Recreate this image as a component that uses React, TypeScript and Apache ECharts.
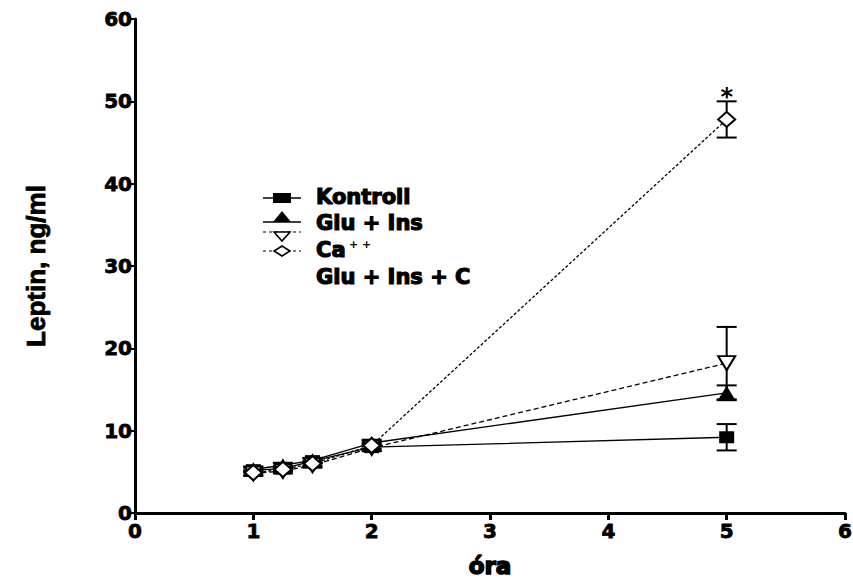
import React, { useEffect, useRef } from "react";
import * as echarts from "echarts";

const hours = [1, 1.25, 1.5, 2, 5];
const kontroll = [5.2, 5.4, 6.3, 8.0, 9.2];
const gluIns = [5.3, 5.8, 6.4, 8.5, 14.6];
const caPP = [4.8, 5.1, 5.8, 7.9, 18.2];
const gluInsC = [4.9, 5.3, 6.0, 8.2, 47.8];
const kontrollErr = [0.3, 0.3, 0.3, 0.4, 1.6];
const gluInsErr = [0.3, 0.3, 0.3, 0.4, 0.9];
const caPPErr = [0.3, 0.3, 0.3, 0.4, 4.4];
const gluInsCErr = [0.3, 0.3, 0.3, 0.4, 2.2];
const xTicks = [0, 1, 2, 3, 4, 5, 6];
const yTicks = [0, 10, 20, 30, 40, 50, 60];

const legendNames = ["Kontroll", "Glu + Ins", "Ca", "Glu + Ins + C"];

const App: React.FC = () => {
  const ref = useRef<HTMLDivElement>(null);
  useEffect(() => {
    if (!ref.current) return;
    const chart = echarts.init(ref.current, undefined, { renderer: "svg" });
    const pts = (ys: number[]) => hours.map((h, i) => [h, ys[i]]);
    const errData: any[] = [];
    const addErr = (ys: number[], es: number[], star: boolean) =>
      hours.forEach((h, i) => errData.push([h, ys[i] - es[i], ys[i] + es[i], star && i === hours.length - 1 ? 1 : 0]));
    addErr(kontroll, kontrollErr, false);
    addErr(gluIns, gluInsErr, false);
    addErr(caPP, caPPErr, false);
    addErr(gluInsC, gluInsCErr, true);

    const tickFont = {
      fontFamily: "DejaVu Sans, sans-serif", fontWeight: "bold" as const, fontSize: 20, color: "#000",
      textBorderColor: "#000", textBorderWidth: 0.8,
    };
    const lx = 263, lx2 = 301, tx = 316;
    const legendFont = {
      fontFamily: "DejaVu Sans, sans-serif", fontWeight: "bold" as const, fontSize: 21, fill: "#000",
      stroke: "#000", lineWidth: 1.2,
    };

    chart.setOption({
      animation: false,
      backgroundColor: "#fff",
      grid: { left: 135, right: 8, top: 19, bottom: 67, containLabel: false, outerBoundsMode: "none" },
      xAxis: {
        type: "value", min: 0, max: 6, interval: 1,
        axisLine: { lineStyle: { color: "#000", width: 3 } },
        axisTick: { length: 7, lineStyle: { color: "#000", width: 3 } },
        axisLabel: { ...tickFont, margin: 8, formatter: (v: number) => (xTicks.includes(v) ? String(v) : "") },
        splitLine: { show: false },
        name: "óra", nameLocation: "middle", nameGap: 41,
        nameTextStyle: {
          fontFamily: "DejaVu Sans, sans-serif", fontWeight: "bold", fontSize: 23, color: "#000",
          textBorderColor: "#000", textBorderWidth: 1.5,
        },
      },
      yAxis: {
        type: "value", min: 0, max: 60, interval: 10,
        axisLine: { lineStyle: { color: "#000", width: 3 } },
        axisTick: { length: 8, lineStyle: { color: "#000", width: 2 } },
        axisLabel: { ...tickFont, margin: 3, formatter: (v: number) => (yTicks.includes(v) ? String(v) : "") },
        splitLine: { show: false },
        name: "Leptin, ng/ml", nameLocation: "middle", nameGap: 86, nameRotate: 90,
        nameTextStyle: {
          fontFamily: "Liberation Sans Narrow, Liberation Sans, sans-serif", fontWeight: "bold", fontSize: 26, color: "#000",
          textBorderColor: "#000", textBorderWidth: 0.8,
        },
      },
      series: [
        {
          type: "custom", name: "err", data: errData, z: 1,
          renderItem: (params: any, api: any) => {
            const x = api.value(0);
            const top = api.coord([x, api.value(2)]);
            const bot = api.coord([x, api.value(1)]);
            const hw = 10;
            const st = { stroke: "#000", lineWidth: 2 };
            const children: any[] = [
              { type: "line", shape: { x1: top[0], y1: top[1], x2: bot[0], y2: bot[1] }, style: st },
              { type: "line", shape: { x1: top[0] - hw, y1: top[1], x2: top[0] + hw, y2: top[1] }, style: st },
              { type: "line", shape: { x1: bot[0] - hw, y1: bot[1], x2: bot[0] + hw, y2: bot[1] }, style: st },
            ];
            if (api.value(3) === 1) {
              children.push({ type: "text", x: top[0], y: top[1] + 8, style: { text: "*", fill: "#000", font: "bold 24px DejaVu Sans, sans-serif", align: "center", verticalAlign: "bottom" } });
            }
            return { type: "group", children };
          },
        },
        {
          type: "line", name: legendNames[0], data: pts(kontroll), z: 3,
          symbol: "rect", symbolSize: [15, 12],
          itemStyle: { color: "#000" }, lineStyle: { color: "#000", width: 1.3 },
        },
        {
          type: "line", name: legendNames[1], data: pts(gluIns), z: 3,
          symbol: "triangle", symbolSize: [17, 14],
          itemStyle: { color: "#000" }, lineStyle: { color: "#000", width: 1.3 },
        },
        {
          type: "line", name: legendNames[2], data: pts(caPP), z: 4,
          symbol: "triangle", symbolRotate: 180, symbolSize: [17, 14],
          itemStyle: { color: "#fff", borderColor: "#000", borderWidth: 2 },
          lineStyle: { color: "#000", width: 1.3, type: [5, 3] },
        },
        {
          type: "line", name: legendNames[3], data: pts(gluInsC), z: 4,
          symbol: "diamond", symbolSize: [17, 15],
          itemStyle: { color: "#fff", borderColor: "#000", borderWidth: 2 },
          lineStyle: { color: "#000", width: 1.3, type: [3, 2] },
        },
      ],
      graphic: [
        { type: "line", shape: { x1: lx, y1: 198, x2: lx2, y2: 198 }, style: { stroke: "#000", lineWidth: 1.3 } },
        { type: "rect", shape: { x: 273, y: 193, width: 18, height: 10 }, style: { fill: "#000" } },
        { type: "line", shape: { x1: lx, y1: 222, x2: lx2, y2: 222 }, style: { stroke: "#000", lineWidth: 1.3 } },
        { type: "polygon", shape: { points: [[282, 211], [273, 222], [291, 222]] }, style: { fill: "#000" } },
        { type: "line", shape: { x1: lx, y1: 232, x2: lx2, y2: 232 }, style: { stroke: "#000", lineWidth: 1.2, lineDash: [3, 3] } },
        { type: "polygon", shape: { points: [[274, 232], [290, 232], [282, 241]] }, style: { fill: "#fff", stroke: "#000", lineWidth: 1.6 } },
        { type: "line", shape: { x1: lx, y1: 251, x2: lx2, y2: 251 }, style: { stroke: "#000", lineWidth: 1.2, lineDash: [3, 3] } },
        { type: "polygon", shape: { points: [[282, 246], [290, 251], [282, 256], [274, 251]] }, style: { fill: "#fff", stroke: "#000", lineWidth: 1.6 } },
        { type: "text", x: tx, y: 197, style: { ...legendFont, text: legendNames[0], verticalAlign: "middle" } },
        { type: "text", x: tx, y: 223, style: { ...legendFont, text: legendNames[1], verticalAlign: "middle" } },
        { type: "text", x: tx, y: 250, style: { ...legendFont, text: legendNames[2], verticalAlign: "middle" } },
        {
          type: "text", x: tx + 33, y: 244,
          style: { text: "+ +", fill: "#000", font: "bold 11px DejaVu Sans, sans-serif", verticalAlign: "middle" },
        },
        { type: "text", x: tx, y: 277, style: { ...legendFont, text: legendNames[3], verticalAlign: "middle" } },
      ],
    });
    return () => chart.dispose();
  }, []);
  return <div ref={ref} style={{ width: 853, height: 580, position: "absolute", left: 0, top: 0 }} />;
};

export default App;
